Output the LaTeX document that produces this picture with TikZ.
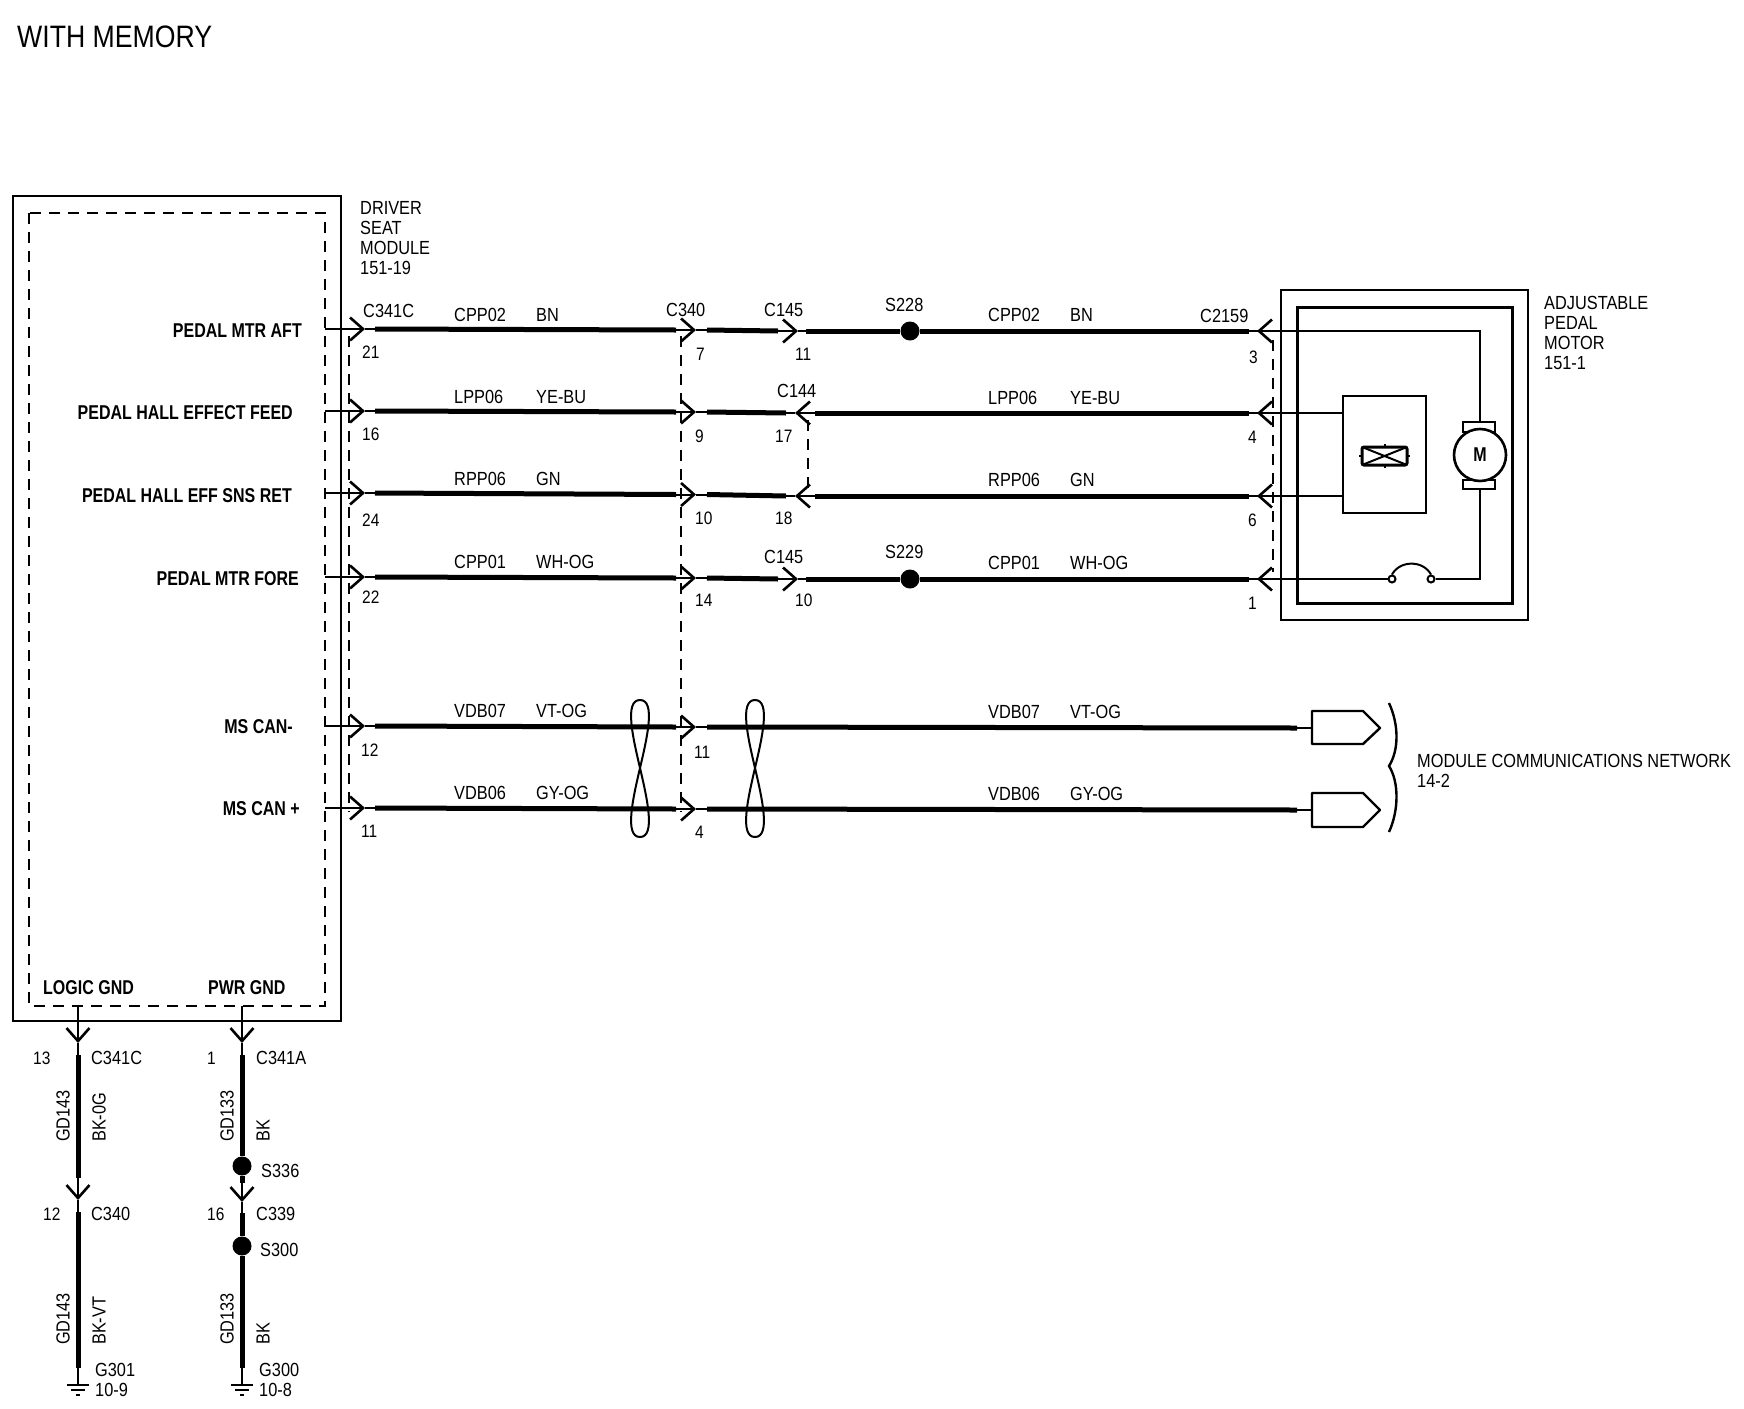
\documentclass[tikz,border=0pt]{standalone}
\usepackage{fontspec}
\setmainfont[FakeStretch=0.86]{Liberation Sans}
\newfontfamily\labfont[FakeStretch=0.8]{Liberation Sans}
\usetikzlibrary{arrows.meta}
\tikzset{
  thinwire/.style={line width=2pt},
  thickwire/.style={line width=5pt},
  barbed/.style={thinwire,-{Straight Barb[length=13pt,width=23pt,line width=2.6pt]}},
  dashconn/.style={line width=1.8pt,dash pattern=on 11pt off 8pt},
  splice/.style={circle,fill=black,inner sep=0pt,minimum size=19pt},
  lab/.style={inner sep=0pt,anchor=west,font=\fontsize{19}{20}\selectfont},
  pinlab/.style={lab,font=\fontsize{18}{20}\selectfont},
  vlab/.style={lab,rotate=90},
  sig/.style={inner sep=0pt,anchor=east,font=\labfont\bfseries\fontsize{20}{20}\selectfont},
  blocklab/.style={lab,align=left,anchor=north west,font=\fontsize{19}{20}\selectfont},
  netplug/.style={line width=2.4pt,line join=round},
}
\begin{document}
\begin{tikzpicture}[x=1pt,y=-1pt,line cap=butt]
  \useasboundingbox (0,0) rectangle (1744,1408);
  \node[lab,font=\fontsize{31}{34}\selectfont] (title) at (17,37) {WITH MEMORY};

  % driver seat module
  \draw[line width=2.6pt] (13,196) rectangle (341,1021);
  \draw[line width=2.6pt,dash pattern=on 11pt off 8pt] (29,213) rectangle (325,1006);
  \node[blocklab] (dsm) at (360,201) {DRIVER\\SEAT\\MODULE\\151-19};

  % signal names
  \foreach \sname/\sy/\sx/\stext in {
    a/331/302/PEDAL MTR AFT,
    b/413/293/PEDAL HALL EFFECT FEED,
    c/496/292/PEDAL HALL EFF SNS RET,
    d/579/299/PEDAL MTR FORE,
    e/727/293/MS CAN-,
    f/809/300/MS CAN +
  }
  {
    \node[sig] (sig\sname) at (\sx,\sy) {\stext};
  }
  \node[sig,anchor=west] (logicgnd) at (43,988) {LOGIC GND};
  \node[sig,anchor=west] (pwrgnd) at (208,988) {PWR GND};

  % common part of every horizontal run, up to C340
  \foreach \wname/\yl/\yr in {a/329/331, b/411/413, c/493/496, d/577/579, e/726/728, f/808/810}
  {
    \pgfmathsetmacro{\ym}{(\yl+\yr)/2}
    \coordinate (\wname0) at (325,\yl);
    \coordinate (\wname1) at (365,\yl);
    \coordinate (\wname2) at (375,\yl);
    \coordinate (\wname3) at (676,\ym);
    \coordinate (\wname4) at (696,\ym);
    \coordinate (\wname5) at (707,\ym);
    \draw[barbed] (\wname0) -- (\wname1);
    \draw[thinwire] (\wname1) -- (\wname2);
    \draw[thickwire] (\wname2) -- (\wname3);
    \draw[barbed] (\wname3) -- (\wname4);
    \draw[thinwire] (\wname4) -- (\wname5);
  }

  % motor runs, C145 and a splice
  \foreach \wname/\yr/\sname in {a/331/s228, d/579/s229}
  {
    \node[splice] (\sname) at (910,\yr) {};
    \coordinate (\wname6) at (778,\yr);
    \coordinate (\wname7) at (798,\yr);
    \coordinate (\wname8) at (806,\yr);
    \coordinate (\wname9) at (1249,\yr);
    \coordinate (\wname10) at (1257,\yr);
    \coordinate (\wname11) at (1285,\yr);
    \draw[thickwire] (\wname5) -- (\wname6);
    \draw[barbed] (\wname6) -- (\wname7);
    \draw[thinwire] (\wname7) -- (\wname8);
    \draw[thickwire] (\wname8) -- (\sname);
    \draw[thickwire] (\sname) -- (\wname9);
    \draw[thinwire] (\wname9) -- (\wname10);
    \draw[barbed] (\wname11) -- (\wname10);
  }

  % hall sensor runs, C144 faces the other way
  \foreach \wname/\yr in {b/413, c/496}
  {
    \coordinate (\wname6) at (786,\yr);
    \coordinate (\wname7) at (795,\yr);
    \coordinate (\wname8) at (815,\yr);
    \coordinate (\wname9) at (1249,\yr);
    \coordinate (\wname10) at (1257,\yr);
    \coordinate (\wname11) at (1285,\yr);
    \draw[thickwire] (\wname5) -- (\wname6);
    \draw[thinwire] (\wname6) -- (\wname7);
    \draw[barbed] (\wname8) -- (\wname7);
    \draw[thickwire] (\wname8) -- (\wname9);
    \draw[thinwire] (\wname9) -- (\wname10);
    \draw[barbed] (\wname11) -- (\wname10);
  }

  % network runs and their plugs
  \foreach \wname/\yr/\yt/\yb in {e/728/711/744, f/810/793/827}
  {
    \coordinate (\wname6) at (1297,\yr);
    \node[inner sep=0pt] (\wname7) at (1312,\yr) {};
    \draw[thickwire] (\wname5) -- (\wname6);
    \draw[thinwire] (\wname6) -- (\wname7);
    \draw[netplug] (1312,\yt) -- (1363,\yt) -- (1380,\yr) -- (1363,\yb) -- (1312,\yb) -- cycle;
  }

  % twisted pairs
  \foreach \tx in {640,755} {
    \begin{scope}[shift={(\tx,768)}]
      \draw[thinwire] (0,-68) .. controls (-16,-68) and (-7,-30) .. (0,0)
        .. controls (7,30) and (16,69) .. (0,69)
        .. controls (-16,69) and (-7,30) .. (0,0)
        .. controls (7,-30) and (16,-68) .. (0,-68);
    \end{scope}
  }

  % connector dashes
  \draw[dashconn] (349,336) -- (349,812);
  \draw[dashconn] (681,336) -- (681,812);
  \draw[dashconn] (808,420) -- (808,490);
  \draw[dashconn] (1273,340) -- (1273,572);

  % wire labels, left half
  \foreach \wname/\ytop/\wnum/\wcol in {
    p/315/CPP02/BN, q/397/LPP06/YE-BU, r/479/RPP06/GN, s/562/CPP01/WH-OG, t/711/VDB07/VT-OG, u/793/VDB06/GY-OG
  }
  {
    \node[lab] (\wname num) at (454,\ytop) {\wnum};
    \node[lab] (\wname col) at (536,\ytop) {\wcol};
  }
  % wire labels, right half
  \foreach \wname/\ytop/\wnum/\wcol in {
    p/315/CPP02/BN, q/398/LPP06/YE-BU, r/480/RPP06/GN, s/563/CPP01/WH-OG, t/712/VDB07/VT-OG, u/794/VDB06/GY-OG
  }
  {
    \node[lab] (\wname numr) at (988,\ytop) {\wnum};
    \node[lab] (\wname colr) at (1070,\ytop) {\wcol};
  }

  % connector names
  \foreach \cname/\cx/\cy/\ctext in {
    cn1/363/311/C341C, cn2/666/310/C340, cn3/764/310/C145, cn4/777/391/C144, cn5/764/557/C145,
    cn6/1200/316/C2159, cn7/885/305/S228, cn8/885/552/S229
  }
  {
    \node[lab] (\cname) at (\cx,\cy) {\ctext};
  }

  % pin numbers
  \foreach \pname/\px/\py/\ptext in {
    p1/362/352/21, p2/696/354/7, p3/795/354/11, p4/1249/357/3,
    p5/362/434/16, p6/695/436/9, p7/775/436/17, p8/1248/437/4,
    p9/362/520/24, p10/695/518/10, p11/775/518/18, p12/1248/520/6,
    p13/362/597/22, p14/695/600/14, p15/795/600/10, p16/1248/603/1,
    p17/361/750/12, p18/694/752/11, p19/361/831/11, p20/695/832/4
  }
  {
    \node[pinlab] (\pname) at (\px,\py) {\ptext};
  }

  % adjustable pedal motor
  \draw[line width=2.4pt] (1281,290) rectangle (1528,620);
  \draw[line width=3pt] (1297,307) rectangle (1512,603);
  \node[blocklab] (apm) at (1544,296) {ADJUSTABLE\\PEDAL\\MOTOR\\151-1};
  \node[draw,line width=2.8pt,minimum width=83pt,minimum height=117pt,inner sep=0pt] (hall) at (1384.5,454.5) {};
  \draw[line width=3pt,rounded corners=2pt] (1362,447) rectangle (1407,465);
  \draw[thinwire] (1362,447) -- (1407,465) (1362,465) -- (1407,447);
  \draw[thinwire] (1384.5,447) -- (1384.5,444) (1384.5,465) -- (1384.5,468) (1362,456) -- (1359,456) (1407,456) -- (1410,456);
  \draw[thinwire] (b10) -- (b10 -| hall.west);
  \draw[thinwire] (c10) -- (c10 -| hall.west);
  \draw[line width=2.6pt] (1463,422) rectangle (1495,432);
  \draw[line width=2.6pt] (1463,480) rectangle (1495,489);
  \node[circle,draw,fill=white,line width=2.6pt,minimum size=52pt,inner sep=0pt,font=\labfont\bfseries\fontsize{20}{20}\selectfont] (motor) at (1480,455) {M};
  \node[circle,draw,line width=2pt,minimum size=7pt,inner sep=0pt] (swa) at (1392,579) {};
  \node[circle,draw,line width=2pt,minimum size=7pt,inner sep=0pt] (swb) at (1431,579) {};
  \draw[thinwire] (a10) -- (1480,331) -- (1480,422);
  \draw[thinwire] (1480,489) -- (1480,579) -- (swb);
  \draw[thinwire] (d10) -- (swa);
  \draw[thinwire] (swa.north) .. controls (1400,560) and (1423,560) .. (swb.north);

  % network brace
  \draw[line width=2.4pt] (1389,703) .. controls (1399,725) and (1399,750) .. (1389,766)
    .. controls (1399,782) and (1399,810) .. (1389,832);
  \node[blocklab] (mcn) at (1417,754) {MODULE COMMUNICATIONS NETWORK\\14-2};

  % ground runs
  \foreach \gname/\gx in {l/78, r/242}
  {
    \coordinate (\gname0) at (\gx,1006);
    \coordinate (\gname1) at (\gx,1043);
    \coordinate (\gname2) at (\gx,1055);
    \coordinate (\gname9) at (\gx,1368);
    \coordinate (\gname10) at (\gx,1385);
    \draw[barbed] (\gname0) -- (\gname1);
    \draw[thinwire] (\gname1) -- (\gname2);
    \draw[thinwire] (\gname9) -- (\gname10);
    \draw[line width=2.4pt] (\gx-11,1385) -- (\gx+11,1385) (\gx-7,1390) -- (\gx+7,1390) (\gx-2,1395) -- (\gx+2,1395);
  }
  % logic ground
  \coordinate (l3) at (78,1178);
  \coordinate (l4) at (78,1200);
  \coordinate (l5) at (78,1212);
  \draw[thickwire] (l2) -- (l3);
  \draw[barbed] (l3) -- (l4);
  \draw[thinwire] (l4) -- (l5);
  \draw[thickwire] (l5) -- (l9);
  % power ground
  \node[splice] (s336) at (242,1166) {};
  \node[splice] (s300) at (242,1246) {};
  \coordinate (r3) at (242,1183);
  \coordinate (r4) at (242,1202);
  \coordinate (r5) at (242,1213);
  \draw[thickwire] (r2) -- (s336);
  \draw[thickwire] (s336) -- (r3);
  \draw[barbed] (r3) -- (r4);
  \draw[thinwire] (r4) -- (r5);
  \draw[thickwire] (r5) -- (s300);
  \draw[thickwire] (s300) -- (r9);

  \foreach \lname/\lx/\ly/\ltext in {
    g1/91/1058/C341C, g2/256/1058/C341A, g3/261/1171/S336, g4/91/1214/C340,
    g5/256/1214/C339, g6/260/1250/S300, g7/95/1370/G301, g8/95/1390/10-9,
    g9/259/1370/G300, g10/259/1390/10-8
  }
  {
    \node[lab] (\lname) at (\lx,\ly) {\ltext};
  }
  \foreach \lname/\lx/\ly/\ltext in {n1/33/1058/13, n2/207/1058/1, n3/43/1214/12, n4/207/1214/16}
  {
    \node[pinlab] (\lname) at (\lx,\ly) {\ltext};
  }
  \foreach \lname/\lx/\ly/\ltext in {
    v1/63/1142/GD143, v2/99/1142/BK-0G, v3/227/1142/GD133, v4/263/1142/BK,
    v5/63/1345/GD143, v6/99/1345/BK-VT, v7/227/1345/GD133, v8/263/1345/BK
  }
  {
    \node[vlab] (\lname) at (\lx,\ly) {\ltext};
  }
\end{tikzpicture}
\end{document}
